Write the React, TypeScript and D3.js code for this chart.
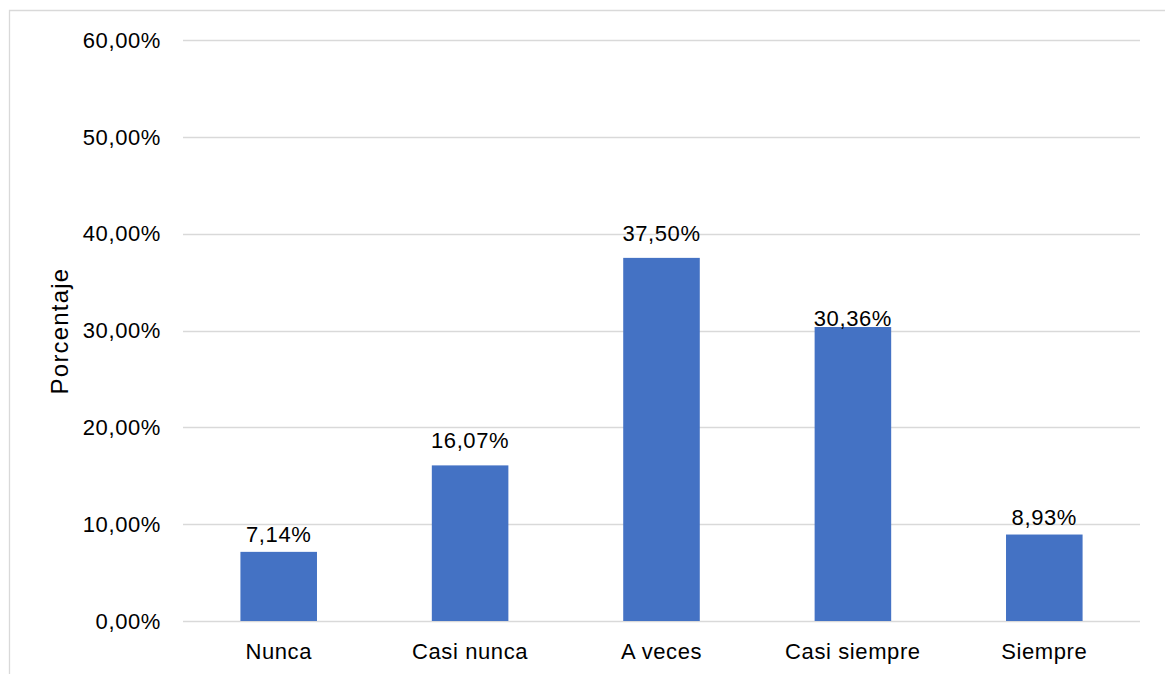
import React from "react";
import * as d3 from "d3";

const categories = ["Nunca", "Casi nunca", "A veces", "Casi siempre", "Siempre"];
const values = [7.14, 16.07, 37.5, 30.36, 8.93];
const valueLabels = ["7,14%", "16,07%", "37,50%", "30,36%", "8,93%"];
const labelLift = [10, 17, 17, 1, 10];
const yTicks = [0, 10, 20, 30, 40, 50, 60];
const yTitle = "Porcentaje";

const W = 1166;
const H = 674;
const FONT = "'Liberation Sans', Arial, sans-serif";

export default function App() {
  const x = d3
    .scaleBand<string>()
    .domain(categories)
    .range([183, 1140])
    .paddingInner(0.6)
    .paddingOuter(0.3);
  const y = d3.scaleLinear().domain([0, 60]).range([621, 40]);
  const fmt = (v: number) => d3.format(".2f")(v).replace(".", ",") + "%";

  return (
    <svg
      width={W}
      height={H}
      style={{ position: "absolute", left: 0, top: 0, background: "#fff" }}
      fontFamily={FONT}
    >
      <rect x={0} y={0} width={W} height={H} fill="#fff" />
      <path d={`M9.5,${H} V10.5 H${W - 1}`} fill="none" stroke="#d9d9d9" strokeWidth={1.3} />
      {yTicks.map((t) => (
        <g key={t}>
          <line x1={183} x2={1140} y1={Math.round(y(t)) + 0.5} y2={Math.round(y(t)) + 0.5} stroke="#d9d9d9" strokeWidth={1.3} />
          <text
            x={161}
            y={y(t) + 7.8}
            textAnchor="end"
            fontSize={22}
            letterSpacing={0.6}
            fill="#000"
          >
            {fmt(t)}
          </text>
        </g>
      ))}
      {categories.map((c, i) => {
        const bx = x(c)!;
        const top = y(values[i]);
        return (
          <g key={c}>
            <rect x={bx} y={top} width={x.bandwidth()} height={y(0) - top} fill="#4472c4" />
            <text
              x={bx + x.bandwidth() / 2}
              y={top - labelLift[i]}
              textAnchor="middle"
              fontSize={22}
              letterSpacing={0.6}
              fill="#000"
            >
              {valueLabels[i]}
            </text>
            <text
              x={bx + x.bandwidth() / 2}
              y={659}
              textAnchor="middle"
              fontSize={22}
              letterSpacing={0.6}
              fill="#000"
            >
              {c}
            </text>
          </g>
        );
      })}
      <text
        transform={`translate(68,331) rotate(-90)`}
        textAnchor="middle"
        fontSize={24}
        letterSpacing={1.2}
        fill="#000"
      >
        {yTitle}
      </text>
    </svg>
  );
}
